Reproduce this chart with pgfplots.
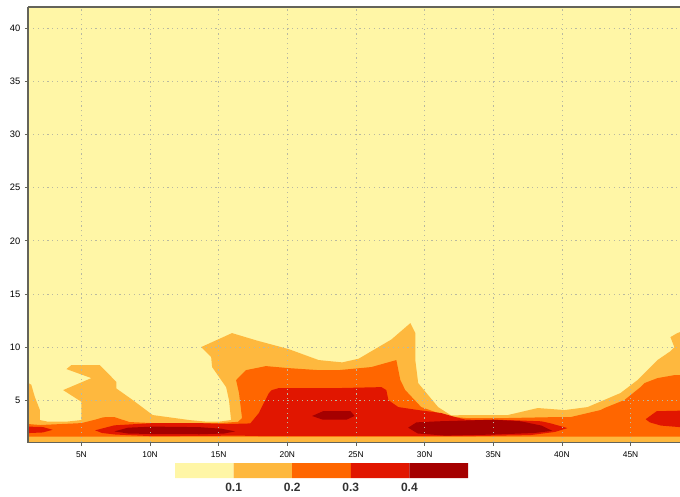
\documentclass[border=0pt]{standalone}
\usepackage{fontspec}
\setmainfont{Liberation Sans}
\usepackage{pgfplots}
\pgfplotsset{compat=1.18}
\definecolor{c0}{RGB}{255,246,166}
\definecolor{c1}{RGB}{254,184,62}
\definecolor{c2}{RGB}{255,102,0}
\definecolor{c3}{RGB}{225,22,0}
\definecolor{c4}{RGB}{165,0,0}
\definecolor{spine}{RGB}{100,100,90}
\definecolor{gridc}{RGB}{185,185,160}
\begin{document}
\begin{tikzpicture}[x=1pt,y=1pt]
\path[use as bounding box] (0,0) rectangle (510,372);
\begin{axis}[at={(21.2pt,40.1pt)}, anchor=south west, scale only axis,
  width=488.8pt, height=326.4pt,
  xmin=1.13, xmax=48.6, ymin=1, ymax=42,
  axis x line*=box, axis y line*=left,
  axis line style={spine, line width=1.4pt},
  axis background/.style={fill=c0},
  axis on top,
  xtick={5,10,15,20,25,30,35,40,45},
  xticklabels={5N,10N,15N,20N,25N,30N,35N,40N,45N},
  ytick={5,10,15,20,25,30,35,40},
  xtick pos=left, ytick pos=left,
  tick align=outside, major tick length=2.5pt,
  tick style={spine, line width=0.6pt},
  grid=major,
  major grid style={gridc, line width=0.6pt, dash pattern=on 0.8pt off 2.8pt},
  /pgf/number format/assume math mode=true,
  xticklabel style={font=\fontsize{6.3}{7}\selectfont, yshift=-0.5pt},
  yticklabel style={font=\fontsize{7}{8}\selectfont},
]
% level >= 0.1
\addplot[fill=c1, draw=none] coordinates {
(1.13,1) (1.13,6.60) (1.35,6.45) (1.61,5.28) (1.98,4.06) (1.98,3.12) (2.5,2.98) (4.0,2.98) (5.0,3.12) (5.0,4.84) (3.67,5.94) (5.73,7.07) (3.91,7.92) (4.27,8.30) (6.33,8.30) (7.54,6.72) (7.54,6.10) (8.74,5.0) (10.19,3.59) (12.85,3.12) (14.0,2.98) (15.1,2.98) (15.9,3.12) (15.75,5.0) (15.54,6.22) (14.52,8.11) (14.45,9.05) (13.72,9.99) (15.97,11.31) (17.8,10.6) (20.1,9.8) (22.28,8.77) (24.0,8.55) (25.2,8.9) (26.12,9.6) (27.57,10.7) (28.96,12.25) (29.32,11.31) (29.32,8.77) (29.53,6.60) (30.98,4.34) (31.93,3.55) (33,3.59) (36.06,3.59) (38.24,4.25) (40.2,4.06) (41.87,4.34) (44.26,5.66) (45.5,6.88) (46.45,8.11) (46.96,8.77) (47.9,9.6) (48.19,9.99) (47.9,10.93) (48.4,11.31) (48.6,11.4) (48.6,1) (1.13,1)
};
% level >= 0.2
\addplot[fill=c2, draw=none] coordinates {
(1.13,1.55) (1.13,2.74) (2.0,2.65) (5.0,2.83) (6.0,3.15) (6.6,3.38) (7.4,3.4) (8.5,2.93) (10.19,2.83) (12.85,2.83) (15.0,2.83) (16.4,2.95) (16.7,3.3) (16.48,5.66) (16.27,6.88) (16.99,7.82) (18.44,8.2) (20.1,8.01) (22.28,7.82) (23.73,7.82) (26.12,8.11) (27.94,8.77) (28.23,6.88) (28.59,5.94) (29.75,4.34) (31.71,3.45) (33,3.31) (36.06,3.31) (39.7,3.40) (40.64,3.40) (42.81,4.06) (43.10,4.25) (44.55,5.0) (45.72,6.22) (46.01,6.6) (46.96,7.07) (48.19,7.35) (48.6,7.35) (48.6,1.55) (1.13,1.55)
};
% level >= 0.3
\addplot[fill=c3, draw=none] coordinates {
(1.13,1.89) (1.13,2.50) (2.2,2.46) (2.9,2.2) (2.2,1.95) (1.13,1.89)
};
\addplot[fill=c3, draw=none] coordinates {
(6.0,2.15) (7.4,2.62) (10.2,2.83) (13.6,2.83) (15.6,2.74) (17.3,2.8) (17.93,3.78) (18.08,4.2) (18.66,5.66) (18.87,5.94) (19.38,6.13) (21.77,6.13) (23.73,6.13) (26.85,6.22) (27.21,5.94) (27.36,5.0) (28.08,4.34) (29.53,4.06) (31.2,3.78) (32.22,3.40) (33,3.15) (36.06,3.12) (38.5,3.0) (39.2,2.8) (40.4,2.36) (39.5,2.0) (37.7,1.7) (33,1.6) (31,1.6) (18.5,1.6) (16.5,1.65) (10.2,1.6) (7.5,1.75) (6.5,1.9) (6.0,2.15)
};
\addplot[fill=c3, draw=none] coordinates {
(46.1,3.2) (46.9,3.95) (48.6,4.0) (48.6,2.45) (47.2,2.6) (46.4,2.9) (46.1,3.2)
};
% level >= 0.4
\addplot[fill=c4, draw=none] coordinates {
(7.4,2.05) (8.4,2.4) (10.2,2.5) (13.6,2.45) (15.2,2.3) (16.2,2.05) (15.4,1.85) (13.6,1.78) (10.2,1.8) (8.4,1.85) (7.4,2.05)
};
\addplot[fill=c4, draw=none] coordinates {
(21.8,3.5) (22.6,3.95) (24.6,3.95) (24.9,3.5) (24.3,3.15) (22.6,3.15) (21.8,3.5)
};
\addplot[fill=c4, draw=none] coordinates {
(28.8,2.4) (29.4,2.9) (31,3.0) (35,3.15) (37,3.0) (38.5,2.6) (39.3,2.1) (38,1.9) (35,1.75) (31.5,1.65) (29.5,1.85) (28.8,2.4)
};
\end{axis}
% colour bar
\begin{axis}[at={(131.25pt,13.5pt)}, anchor=south west, scale only axis,
  width=219.75pt, height=11.25pt,
  xmin=0, xmax=0.5, ymin=0, ymax=1,
  axis line style={draw=none}, ytick=\empty,
  xtick={0.1,0.2,0.3,0.4}, xticklabels={0.1,0.2,0.3,0.4},
  major tick length=0pt,
  xticklabel style={font=\bfseries\fontsize{9}{10}\selectfont, text=black!80},
]
\addplot[fill=c0, draw=none] coordinates {(0,0) (0.1,0) (0.1,1) (0,1) (0,0)};
\addplot[fill=c1, draw=none] coordinates {(0.1,0) (0.2,0) (0.2,1) (0.1,1) (0.1,0)};
\addplot[fill=c2, draw=none] coordinates {(0.2,0) (0.3,0) (0.3,1) (0.2,1) (0.2,0)};
\addplot[fill=c3, draw=none] coordinates {(0.3,0) (0.4,0) (0.4,1) (0.3,1) (0.3,0)};
\addplot[fill=c4, draw=none] coordinates {(0.4,0) (0.5,0) (0.5,1) (0.4,1) (0.4,0)};
\end{axis}
\end{tikzpicture}
\end{document}
